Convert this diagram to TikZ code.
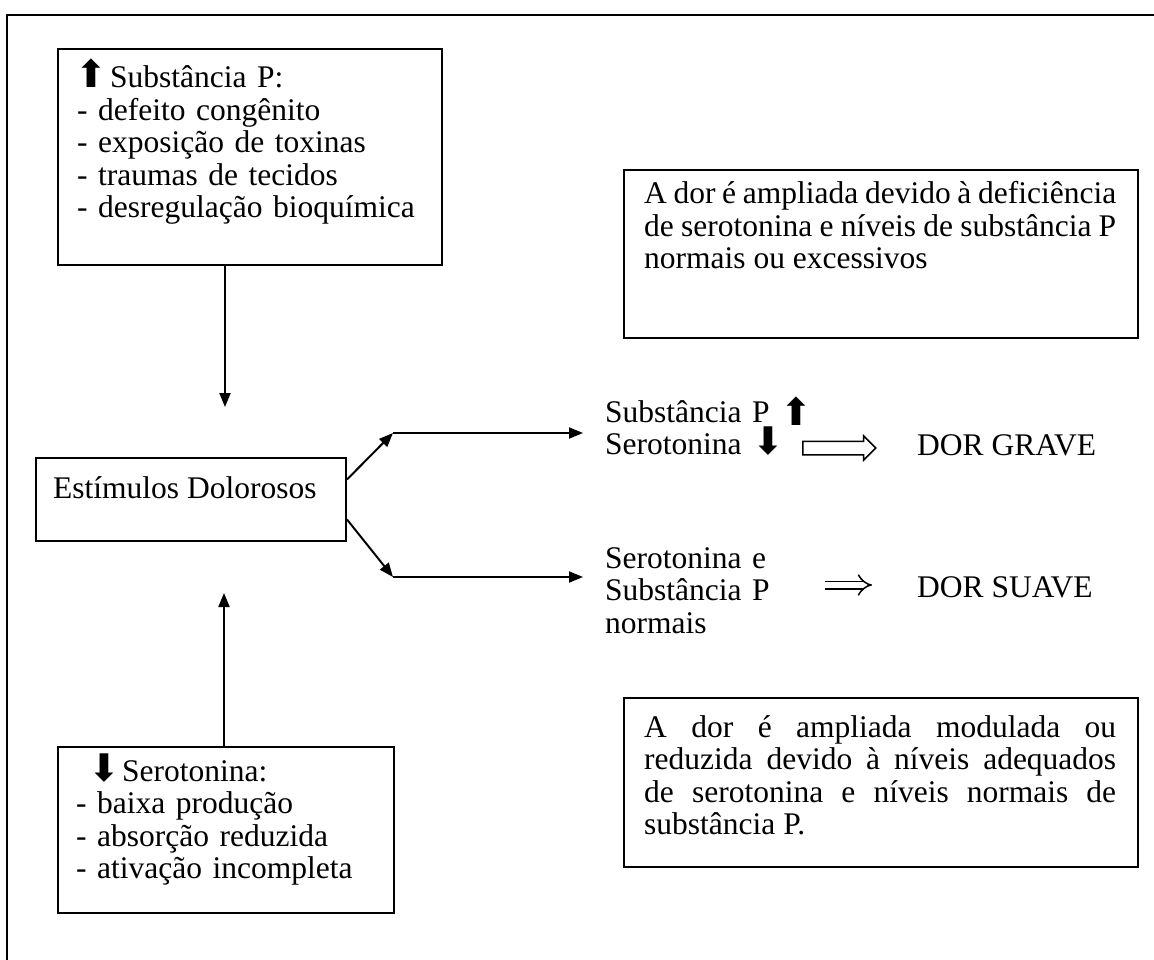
\documentclass[tikz,border=0pt]{standalone}
\usepackage{fontspec}
\setmainfont{Liberation Serif}
\newfontfamily\symfont{DejaVu Sans}
\usetikzlibrary{arrows.meta, shapes.arrows}

\tikzset{
  caixa/.style={draw, line width=2pt, inner sep=0pt, anchor=north west},
  texto/.style={inner sep=0pt, anchor=base west, align=left},
  seta/.style={line width=2pt, -{Triangle[length=14pt,width=11pt]}},
}
\newcommand{\cima}{\smash{{\symfont\fontsize{38}{38}\selectfont ⬆}}}
\newcommand{\baixo}{\smash{{\symfont\fontsize{38}{38}\selectfont ⬇}}}

\begin{document}
\begin{tikzpicture}[x=1pt, y=-1pt, font=\fontsize{31.5}{32.5}\selectfont]
\useasboundingbox (0,0) rectangle (1154,960);
\tolerance=9999
% moldura
\draw[line width=2.5pt] (7,962) -- (7,15) -- (1156,15);

% caixas da esquerda
\node[caixa, minimum width=384pt, minimum height=216pt] (subp) at (57,48) {};
\node[texto, text width=360pt] (subp txt) at (77,88) {\hspace*{-2pt}\cima\hspace{3pt}Substância P:\\- defeito congênito\\- exposição de toxinas\\- traumas de tecidos\\- desregulação bioquímica};

\node[caixa, minimum width=310pt, minimum height=83pt] (estim) at (35,457) {};
\node[texto] (estim txt) at (53,498) {Estímulos Dolorosos};

\node[caixa, minimum width=336pt, minimum height=166pt] (sero) at (57,746) {};
\node[texto, text width=320pt] (sero txt) at (76,781) {\hspace*{12pt}\baixo\hspace{2pt}Serotonina:\\- baixa produção\\- absorção reduzida\\- ativação incompleta};

% setas verticais
\coordinate (dor cima) at (225,407);
\coordinate (dor baixo) at (224,593);
\draw[seta] (subp.south -| dor cima) -- (dor cima);
\draw[seta] (sero.north -| dor baixo) -- (dor baixo);

% ramos
\node[texto, text width=280pt] (grave txt) at (605,422) {Substância P \raisebox{-3pt}{\cima}\\Serotonina \baixo};
\node[texto, text width=280pt] (suave txt) at (605,568) {Serotonina e\\Substância P\\normais};
\coordinate (ramo a) at (393,433);
\coordinate (ramo b) at (393,577);
\draw[seta] ([yshift=20pt]estim.east) -- (ramo a);
\draw[seta] ([yshift=-20pt]estim.east) -- (ramo b);
\draw[seta] (ramo a) -- ([xshift=-22pt]grave txt.west |- ramo a);
\draw[seta] (ramo b) -- ([xshift=-22pt]suave txt.west |- ramo b);

% resultados
\node[single arrow, draw, line width=1.5pt, anchor=west, inner xsep=0pt, inner ysep=6pt,
      minimum height=73pt, single arrow head extend=5.5pt, single arrow head indent=0pt] (grave seta) at (802,448) {};
\node[texto] (grave) at (917,455) {DOR GRAVE};
\coordinate (suave a) at (825,585);
\coordinate (suave b) at (872,585);
\draw[double, line width=1.5pt, double distance=6pt, -{Implies}] (suave a) -- (suave b);
\node[texto] (suave) at (917,597) {DOR SUAVE};

% caixas da direita
\node[caixa, minimum width=514pt, minimum height=168pt] (ampl) at (623,169) {};
\node[texto, text width=472pt, align=justify] (ampl txt) at (644,204) {A dor é ampliada devido à deficiência\linebreak de serotonina e níveis de substância P\linebreak normais ou excessivos};

\node[caixa, minimum width=514pt, minimum height=169pt] (modul) at (623,697) {};
\node[texto, text width=472pt, align=justify] (modul txt) at (644,737) {A dor é ampliada modulada ou\linebreak reduzida devido à níveis adequados\linebreak de serotonina e níveis normais de\linebreak substância P.};
\end{tikzpicture}
\end{document}
